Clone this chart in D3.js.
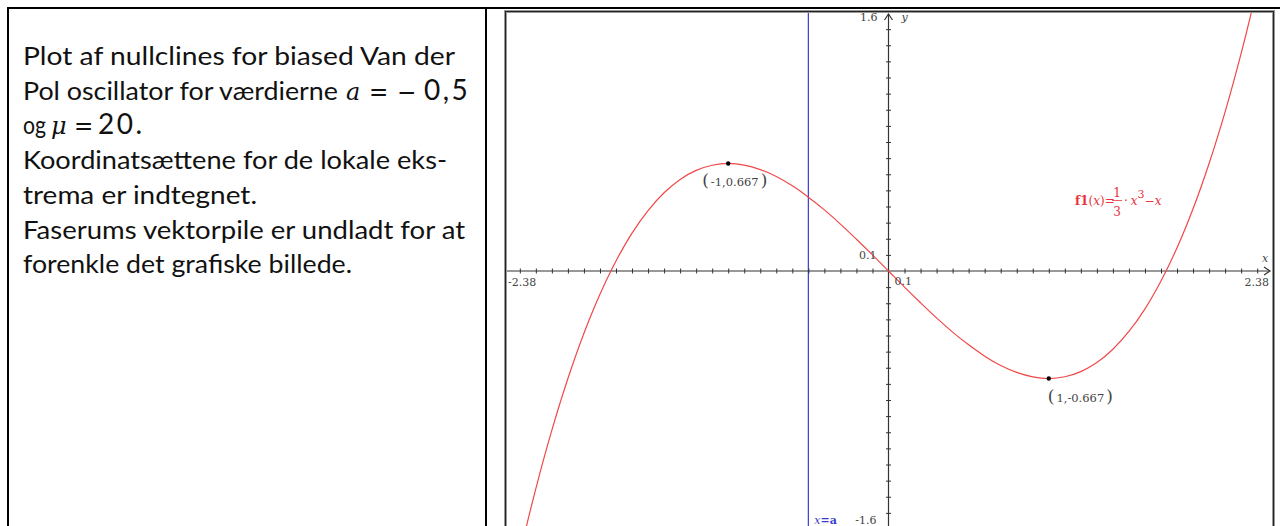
<!DOCTYPE html>
<html>
<head>
<meta charset="utf-8">
<script src="https://cdn.jsdelivr.net/npm/d3@7"></script>
<style>
  body { margin: 0; background: #fff; }
  svg { display: block; }
</style>
</head>
<body>
<svg id="chart" width="1280" height="526"></svg>
<script>
// nullcline f1(x) = 1/3*x^3 - x
const curveX = [-2.4, -2.3, -2.2, -2.1, -2.0, -1.9, -1.8, -1.7, -1.6, -1.5, -1.4, -1.3, -1.2, -1.1, -1.0,
                -0.9, -0.8, -0.7, -0.6, -0.5, -0.4, -0.3, -0.2, -0.1, 0,
                0.1, 0.2, 0.3, 0.4, 0.5, 0.6, 0.7, 0.8, 0.9, 1.0,
                1.1, 1.2, 1.3, 1.4, 1.5, 1.6, 1.7, 1.8, 1.9, 2.0, 2.1, 2.2, 2.3, 2.4];
const curveY = [-2.208, -1.756, -1.349, -0.987, -0.667, -0.386, -0.144, 0.062, 0.235, 0.375, 0.485, 0.568, 0.624, 0.656, 0.667,
                0.657, 0.629, 0.586, 0.528, 0.458, 0.379, 0.291, 0.197, 0.100, 0,
                -0.100, -0.197, -0.291, -0.379, -0.458, -0.528, -0.586, -0.629, -0.657, -0.667,
                -0.656, -0.624, -0.568, -0.485, -0.375, -0.235, -0.062, 0.144, 0.386, 0.667, 0.987, 1.349, 1.756, 2.208];

const extremaX = [-1, 1];
const extremaY = [0.667, -0.667];
const extremaLabels = ["-1,0.667", "1,-0.667"];

const aValue = -0.5;
const xDomain = [-2.38, 2.38];
const yDomain = [-1.6, 1.6];
const xTickLabels = ["-2.38", "2.38", "0.1"];
const yTickLabels = ["1.6", "-1.6", "0.1"];

// text of the left cell (k: m = math italic, s = math symbol, n = math number, otherwise text)
const textLines = [
  [{t: "Plot af nullclines for biased Van der", x: 23, w: 432}],
  [{t: "Pol oscillator for værdierne", x: 23, w: 315},
   {t: "a", x: 346, k: "m"},
   {t: "=", x: 369, k: "s"},
   {t: "−", x: 397, k: "s"},
   {t: "0,5", x: 424, k: "n"}],
  [{t: "og", x: 23, w: 23},
   {t: "μ", x: 51, k: "m"},
   {t: "=", x: 74, k: "s"},
   {t: "20.", x: 98, k: "n"}],
  [{t: "Koordinatsættene for de lokale eks-", x: 23, w: 424}],
  [{t: "trema er indtegnet.", x: 23, w: 234}],
  [{t: "Faserums vektorpile er undladt for at", x: 23, w: 442}],
  [{t: "forenkle det grafiske billede.", x: 23, w: 329}]
];

const svg = d3.select("#chart");

// table borders
svg.append("line").attr("x1", 7).attr("x2", 1280).attr("y1", 8).attr("y2", 8)
  .attr("stroke", "#000").attr("stroke-width", 2);
svg.append("line").attr("x1", 8).attr("x2", 8).attr("y1", 7).attr("y2", 526)
  .attr("stroke", "#000").attr("stroke-width", 2);
svg.append("line").attr("x1", 486).attr("x2", 486).attr("y1", 7).attr("y2", 526)
  .attr("stroke", "#000").attr("stroke-width", 2);

// left text
const baseline0 = 65, lineGap = 34.7;
textLines.forEach((segs, i) => {
  segs.forEach(s => {
    const t = svg.append("text")
      .attr("x", s.x)
      .attr("y", baseline0 + i * lineGap)
      .attr("fill", "#111")
      .text(s.t);
    if (s.k === "m") {
      t.attr("font-family", "'DejaVu Serif', serif")
        .attr("font-style", "italic")
        .attr("font-size", 24);
    } else if (s.k === "s") {
      t.attr("font-family", "'DejaVu Sans', sans-serif")
        .attr("font-size", 23);
    } else if (s.k === "n") {
      t.attr("font-family", "Lato, 'Open Sans', sans-serif")
        .attr("font-size", 28)
        .attr("letter-spacing", 2.5);
    } else {
      t.attr("font-family", "Lato, 'Open Sans', sans-serif")
        .attr("font-size", 25);
      if (s.w) t.attr("textLength", s.w).attr("lengthAdjust", "spacingAndGlyphs");
    }
  });
});

// graph panel
const frame = {x0: 506, y0: 12, x1: 1273, y1: 540};
const x = d3.scaleLinear().domain(xDomain).range([507, 1270]);
const y = d3.scaleLinear().domain(yDomain).range([529, 13]);

svg.append("defs").append("clipPath").attr("id", "clip")
  .append("rect")
  .attr("x", frame.x0).attr("y", frame.y0 + 1)
  .attr("width", frame.x1 - frame.x0).attr("height", frame.y1 - frame.y0);

const g = svg.append("g").attr("clip-path", "url(#clip)");

const axisCol = "#333";
const labelFont = "'DejaVu Serif', serif";

// blue line x = a
g.append("line")
  .attr("x1", x(aValue)).attr("x2", x(aValue))
  .attr("y1", frame.y0).attr("y2", frame.y1)
  .attr("stroke", "#3a3acc").attr("stroke-width", 1.2);

// axes with ticks every 0.1
const xTicks = d3.range(-23, 24).filter(d => d !== 0).map(d => d / 10);
const yTicks = d3.range(-15, 16).filter(d => d !== 0).map(d => d / 10);

const xAxis = g.append("g")
  .attr("transform", `translate(0,${y(0) - 2.5})`)
  .call(d3.axisBottom(x).tickValues(xTicks).tickSize(5).tickFormat(""));
const yAxis = g.append("g")
  .attr("transform", `translate(${x(0) + 2.5},0)`)
  .call(d3.axisLeft(y).tickValues(yTicks).tickSize(5).tickFormat(""));
[xAxis, yAxis].forEach(a => {
  a.select(".domain").remove();
  a.selectAll("line").attr("stroke", axisCol);
});

g.append("line")
  .attr("x1", x(xDomain[0])).attr("x2", x(xDomain[1]))
  .attr("y1", y(0)).attr("y2", y(0))
  .attr("stroke", axisCol).attr("stroke-width", 1.2);
g.append("line")
  .attr("x1", x(0)).attr("x2", x(0))
  .attr("y1", y(yDomain[0]) + 10).attr("y2", y(yDomain[1]) + 1)
  .attr("stroke", axisCol).attr("stroke-width", 1.2);

// arrow heads
const xe = x(xDomain[1]), y0 = y(0), x0 = x(0), ye = y(yDomain[1]) + 1;
g.append("path")
  .attr("d", `M${xe - 6},${y0 - 4} L${xe},${y0} L${xe - 6},${y0 + 4}`)
  .attr("fill", "none").attr("stroke", axisCol).attr("stroke-width", 1.2);
g.append("path")
  .attr("d", `M${x0 - 4},${ye + 6} L${x0},${ye} L${x0 + 4},${ye + 6}`)
  .attr("fill", "none").attr("stroke", axisCol).attr("stroke-width", 1.2);

// the cubic nullcline
const pts = curveX.map((d, i) => [d, curveY[i]]);
g.append("path")
  .datum(pts)
  .attr("d", d3.line().x(d => x(d[0])).y(d => y(d[1])).curve(d3.curveCatmullRom))
  .attr("fill", "none")
  .attr("stroke", "#f04848")
  .attr("stroke-width", 1.2);

// extrema points with labels
extremaX.forEach((ex, i) => {
  const px = x(ex), py = y(extremaY[i]);
  g.append("circle").attr("cx", px).attr("cy", py).attr("r", 2.2).attr("fill", "#000");
  const lx = i === 0 ? px - 26 : px - 1;
  const t = g.append("text")
    .attr("x", lx).attr("y", py + 23)
    .attr("font-family", labelFont)
    .attr("fill", "#444");
  t.append("tspan").attr("font-size", 17).attr("font-weight", 300).text("(");
  t.append("tspan").attr("font-size", 11.5).attr("dx", 2).text(extremaLabels[i]);
  t.append("tspan").attr("font-size", 17).attr("dx", 2).text(")");
});

// tick labels
const tl = (txt, px, py, anchor) => g.append("text")
  .attr("x", px).attr("y", py)
  .attr("text-anchor", anchor)
  .attr("font-family", labelFont)
  .attr("font-size", 11)
  .attr("fill", "#444")
  .text(txt);

tl(yTickLabels[0], x(0) - 11, y(yDomain[1]) + 8, "end");
tl(yTickLabels[1], x(0) - 12, y(yDomain[0]) - 5, "end");
tl(yTickLabels[2], x(0) - 12, y(0.1) + 4, "end");
tl(xTickLabels[0], x(xDomain[0]) + 1, y(0) + 15, "start");
tl(xTickLabels[1], x(xDomain[1]) - 1, y(0) + 15, "end");
tl(xTickLabels[2], x(0.1) - 10, y(0) + 14, "start");

// axis names
g.append("text").attr("x", x(0) + 13).attr("y", 21)
  .attr("font-family", labelFont).attr("font-style", "italic")
  .attr("font-size", 11).attr("fill", "#444").text("y");
g.append("text").attr("x", x(xDomain[1]) - 8).attr("y", y(0) - 9)
  .attr("font-family", labelFont).attr("font-style", "italic")
  .attr("font-size", 11).attr("fill", "#444").text("x");

// x = a label
const xa = g.append("text").attr("x", x(aValue) + 6).attr("y", y(yDomain[0]) - 5)
  .attr("font-family", labelFont).attr("font-size", 11).attr("fill", "#3a3acc");
xa.append("tspan").attr("font-style", "italic").text("x");
xa.append("tspan").attr("font-weight", "bold").text("=a");

// function label f1(x) = 1/3 · x^3 − x
const red = "#e8333c";
const fl = g.append("g").attr("font-family", labelFont).attr("fill", red);
const fx = 1075, fy = 205;
const ft = fl.append("text").attr("x", fx).attr("y", fy).attr("font-size", 12);
ft.append("tspan").attr("font-weight", "bold").text("f1");
ft.append("tspan").text("(");
ft.append("tspan").attr("font-style", "italic").text("x");
ft.append("tspan").text(")=");
fl.append("text").attr("x", fx + 42).attr("y", fy - 8).attr("font-size", 12)
  .attr("text-anchor", "middle").text("1");
fl.append("line").attr("x1", fx + 37).attr("x2", fx + 47)
  .attr("y1", fy - 4.5).attr("y2", fy - 4.5).attr("stroke", red).attr("stroke-width", 0.8);
fl.append("text").attr("x", fx + 42).attr("y", fy + 11).attr("font-size", 12)
  .attr("text-anchor", "middle").text("3");
const ft2 = fl.append("text").attr("x", fx + 49).attr("y", fy).attr("font-size", 12);
ft2.append("tspan").text("·");
ft2.append("tspan").attr("dx", 3).attr("font-style", "italic").text("x");
ft2.append("tspan").attr("dy", -7).attr("font-size", 11).text("3");
ft2.append("tspan").attr("dy", 7).text("−");
ft2.append("tspan").attr("font-style", "italic").text("x");

// panel frame (double border)
svg.append("rect")
  .attr("x", frame.x0 - 0.5).attr("y", frame.y0 - 0.5)
  .attr("width", frame.x1 - frame.x0 + 1).attr("height", frame.y1 - frame.y0)
  .attr("fill", "none").attr("stroke", "#999").attr("stroke-width", 3);
svg.append("rect")
  .attr("x", frame.x0 - 0.5).attr("y", frame.y0 - 0.5)
  .attr("width", frame.x1 - frame.x0 + 1).attr("height", frame.y1 - frame.y0)
  .attr("fill", "none").attr("stroke", "#222").attr("stroke-width", 1);
</script>
</body>
</html>
